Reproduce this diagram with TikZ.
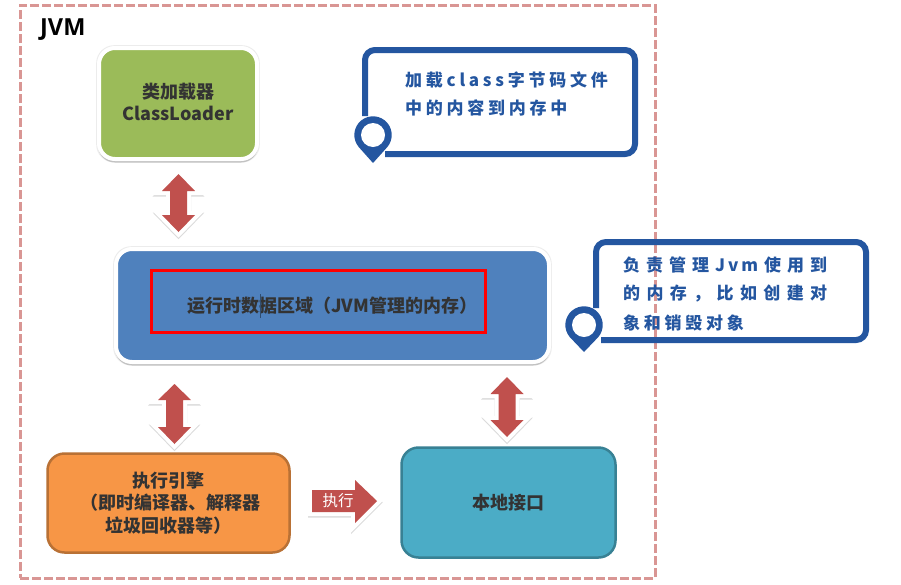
\documentclass[tikz,border=0pt]{standalone}
\usepackage{fontspec}
\setmainfont{Noto Sans CJK SC}
\newfontfamily\spacedbase[LetterSpace=22]{Noto Sans CJK SC}
\newfontfamily\cjkbase{Noto Sans CJK SC}
\newfontfamily\latinbase{Open Sans}
\newcommand{\spaced}{\spacedbase\bfseries}
\newcommand{\plainb}{\cjkbase\bfseries}
\newcommand{\plainr}{\cjkbase}
\newcommand{\latinb}{\latinbase\bfseries}
\definecolor{frameC}{HTML}{D99694}
\definecolor{calloutC}{HTML}{2456A0}
\definecolor{arrowC}{HTML}{C0504D}
\definecolor{txtC}{HTML}{333333}
\definecolor{greenC}{HTML}{9BBB59}
\definecolor{blueC}{HTML}{4F81BD}
\definecolor{orangeC}{HTML}{F79646}
\definecolor{tealC}{HTML}{4BACC6}
\newcommand{\fs}[1]{\fontsize{#1}{#1}\selectfont}
\tikzset{
  x=1pt,y=-1pt,
  lab/.style={font=\plainb\fs{18},text=txtC,inner sep=0pt,align=center},
  calltxt/.style={font=\spaced\fs{17},text=calloutC,inner sep=0pt,anchor=west},
  justtxt/.style={font=\plainb\fs{17},text=calloutC,inner sep=0pt,anchor=west},
  whitebox/.style={fill=#1,draw=white,line width=4pt,rounded corners=16pt,inner sep=0pt},
  linebox/.style={fill=#1,rounded corners=17pt,line width=2.5pt,inner sep=0pt},
  callline/.style={draw=calloutC,line width=6pt,rounded corners=10pt},
  arrowrim/.style={fill=white,draw=white,line width=8pt,miter limit=10},
  arrowfill/.style={fill=arrowC},
  arrowshade/.style={fill=black!40,draw=black!40,line width=8pt,miter limit=10,opacity=.35},
  halo/.style={fill=black!40,rounded corners=18pt,opacity=.18},
  boxshade/.style={fill=black!40,rounded corners=17pt,opacity=.5},
}
\newcommand{\vdarrow}[6]{% cx, top, headend, shaftend, bottom, halfhead
  \foreach \s/\o in {arrowshade/1.5,arrowrim/0,arrowfill/0}{
    \path[\s,yshift=-\o pt] (#1,#2) -- (#1+#6,#3) -- (#1+8.5,#3) -- (#1+8.5,#4) -- (#1+#6,#4)
      -- (#1,#5) -- (#1-#6,#4) -- (#1-8.5,#4) -- (#1-8.5,#3) -- (#1-#6,#3) -- cycle;}
}
\begin{document}
\begin{tikzpicture}
\useasboundingbox (0,0) rectangle (901,584);
\fill[white] (0,0) rectangle (901,584);

% dashed frame
\node[draw=frameC,line width=3pt,dash pattern=on 9pt off 3pt,minimum width=635pt,minimum height=573pt,inner sep=0pt] (jvm) at (337.5,291.5) {};
\node[font=\latinb\fs{23.5},text=black,inner sep=0pt,anchor=west] (jvmtxt) at (40,30) {JVM};

% shadows of the white-rimmed boxes
\fill[halo] (96.2,45.2) rectangle (259.8,162.5);
\fill[halo] (113.2,246.2) rectangle (551.8,365.5);
\fill[boxshade] (98,48) rectangle (258,162.5);
\fill[boxshade] (115,250) rectangle (550,365.5);

% boxes
\node[whitebox=greenC,minimum width=158pt,minimum height=111pt] (cl) at (178,103.5) {};
\node[lab] (cltxt) at (178,102) {类加载器\\[4pt]ClassLoader};

\node[whitebox=blueC,minimum width=433pt,minimum height=113pt] (rt) at (332.5,305.5) {};
\node[draw=red,line width=3pt,inner sep=0pt,minimum width=334pt,minimum height=62pt] (rr) at (318,301) {};
\node[lab,anchor=west] (rttxt) at (187,306) {运行时数据区域（JVM管理的内存）};
\draw[draw=blueC!60!black,line width=.8pt] (260,294) -- (260,318);

\node[linebox=orangeC,draw=orangeC!75!black,minimum width=242pt,minimum height=99pt] (ee) at (168.5,503) {};
\node[lab,anchor=center] (ee1) at (168,481) {执行引擎};
\node[lab,anchor=west] (ee2) at (80,503) {（即时编译器、解释器};
\node[lab,anchor=west] (ee3) at (105,526) {垃圾回收器等）};

\node[linebox=tealC,draw=tealC!75!black,minimum width=214pt,minimum height=110pt] (ni) at (508.5,502.5) {};
\node[lab] (nitxt) at (508,503) {本地接口};

% block arrows between the boxes
\vdarrow{178.5}{174}{191}{215}{232}{16.5}
\vdarrow{174.5}{384}{400}{427}{444}{16.5}
\vdarrow{507}{377}{394}{420}{437}{16.5}

% horizontal arrow
\foreach \s/\o in {arrowshade/1.5,arrowrim/0,arrowfill/0}{
  \path[\s,yshift=-\o pt] (312,490) -- (355,490) -- (355,480) -- (377,501) -- (355,523) -- (355,512) -- (312,512) -- cycle;}
\node[font=\plainr\fs{15.5},text=white,inner sep=0pt] (ex) at (338,501) {执行};

% callout 1
\draw[callline] (365,116) -- (365,50) -- (635,50) -- (635,154) -- (385,154);
\coordinate (p1) at (373,135);
\fill[calloutC] (373,163) -- (358.7,147) arc[start angle=-220,end angle=40,radius=18.7] -- cycle;
\fill[white] (p1) circle[radius=12];
\node[calltxt] (c1a) at (405,80) {加载class字节码文件};
\node[calltxt] (c1b) at (405,108) {中的内容到内存中};

% callout 2
\draw[callline] (596,308) -- (596,242) -- (866,242) -- (866,340) -- (601,340);
\coordinate (p2) at (584,325);
\fill[calloutC] (584,352) -- (569.7,337) arc[start angle=-220,end angle=40,radius=18.7] -- cycle;
\fill[white] (p2) circle[radius=12];
\node[justtxt] (c2a) at (623,265) {\hbox to 204pt{负\hfil 责\hfil 管\hfil 理\hfil J\hskip 3pt v\hskip 3pt m\hfil 使\hfil 用\hfil 到}};
\node[justtxt] (c2b) at (623,293.5) {\hbox to 204pt{的\hfil 内\hfil 存\hfil ，\hfil 比\hfil 如\hfil 创\hfil 建\hfil 对}};
\node[calltxt] (c2c) at (623,323) {象和销毁对象};
\end{tikzpicture}
\end{document}
